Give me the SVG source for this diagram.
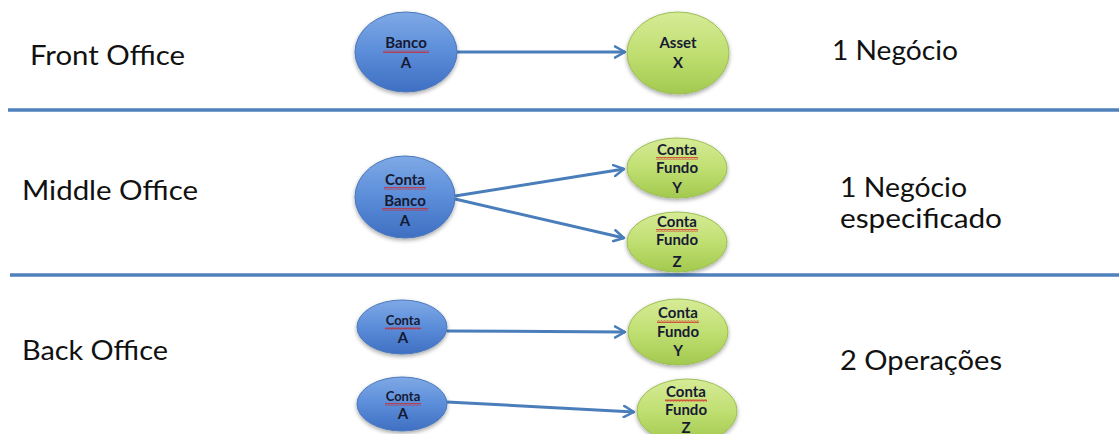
<svg xmlns="http://www.w3.org/2000/svg" width="1119" height="434" viewBox="0 0 1119 434">
  <defs>
    <linearGradient id="gBlue" x1="0" y1="0" x2="0" y2="1">
      <stop offset="0" stop-color="#7fa9e6"/>
      <stop offset="0.5" stop-color="#5b8dd9"/>
      <stop offset="1" stop-color="#3f6fc2"/>
    </linearGradient>
    <linearGradient id="gGreen" x1="0" y1="0" x2="0" y2="1">
      <stop offset="0" stop-color="#d6eb96"/>
      <stop offset="0.5" stop-color="#c0df72"/>
      <stop offset="1" stop-color="#a3c94e"/>
    </linearGradient>
    <filter id="sh" x="-20%" y="-20%" width="140%" height="150%">
      <feGaussianBlur in="SourceAlpha" stdDeviation="2"/>
      <feOffset dx="0" dy="2" result="b"/>
      <feComponentTransfer><feFuncA type="linear" slope="0.35"/></feComponentTransfer>
      <feMerge><feMergeNode/><feMergeNode in="SourceGraphic"/></feMerge>
    </filter>
    <marker id="arr" viewBox="0 0 12 12" refX="10" refY="6" markerWidth="4.5" markerHeight="4.5" orient="auto" markerUnits="strokeWidth">
      <path d="M1,1 L10,6 L1,11" fill="none" stroke="#4a7ebb" stroke-width="2.2" stroke-linecap="round" stroke-linejoin="round"/>
    </marker>
    <pattern id="wavy" width="3" height="3" patternUnits="userSpaceOnUse">
      <path d="M0,2.4 L0.75,0.6 L1.5,2.4 L2.25,0.6 L3,2.4" fill="none" stroke="#d42020" stroke-width="0.7"/>
    </pattern>
  </defs>
  <style>
    .lbl { font-family: Lato, "Open Sans", "Liberation Sans", sans-serif; font-size: 26px; fill: #111; }
    .nt { font-family: Lato, "Liberation Sans", sans-serif; font-weight: bold; font-size: 15px; fill: #161a33; text-anchor: middle; }
    .nts { font-family: Lato, "Liberation Sans", sans-serif; font-weight: bold; font-size: 13px; fill: #161a33; text-anchor: middle; }
    .blue { fill: url(#gBlue); stroke: #4a78bb; stroke-width: 1; filter: url(#sh); }
    .green { fill: url(#gGreen); stroke: #9cbf55; stroke-width: 1; filter: url(#sh); }
    .sep { stroke: #4f81bd; stroke-width: 3.5; }
    .conn { stroke: #4a7ebb; stroke-width: 3; fill: none; marker-end: url(#arr); }
    .wv { fill: url(#wavy); }
  </style>

  <g id="separators">
    <line class="sep" x1="8" y1="110" x2="1119" y2="110"/>
    <line class="sep" x1="10" y1="275" x2="1119" y2="275"/>
  </g>

  <g id="labels">
    <text class="lbl" x="30" y="65" textLength="155" lengthAdjust="spacingAndGlyphs">Front Office</text>
    <text class="lbl" x="22" y="200" textLength="176" lengthAdjust="spacingAndGlyphs">Middle Office</text>
    <text class="lbl" x="22" y="360" textLength="146" lengthAdjust="spacingAndGlyphs">Back Office</text>
    <text class="lbl" x="832" y="60" textLength="126" lengthAdjust="spacingAndGlyphs">1 Negócio</text>
    <text class="lbl" x="840" y="197" textLength="127" lengthAdjust="spacingAndGlyphs">1 Negócio</text>
    <text class="lbl" x="840" y="228" textLength="162" lengthAdjust="spacingAndGlyphs">especificado</text>
    <text class="lbl" x="840" y="370" textLength="162" lengthAdjust="spacingAndGlyphs">2 Operações</text>
  </g>

  <g id="connectors">
    <line class="conn" x1="457" y1="52" x2="625" y2="52"/>
    <line class="conn" x1="455" y1="196" x2="624" y2="169"/>
    <line class="conn" x1="455" y1="199" x2="624" y2="238"/>
    <line class="conn" x1="447" y1="331" x2="625" y2="332"/>
    <line class="conn" x1="447" y1="402" x2="634" y2="412"/>
  </g>

  <g id="front-banco-a">
    <ellipse class="blue" cx="406" cy="52" rx="51" ry="40"/>
    <text class="nt" x="406" y="48">Banco</text>
    <rect class="wv" x="383" y="50" width="46" height="3"/>
    <text class="nt" x="406" y="68">A</text>
  </g>
  <g id="front-asset-x">
    <ellipse class="green" cx="678" cy="53" rx="51" ry="41"/>
    <text class="nt" x="678" y="48">Asset</text>
    <text class="nt" x="678" y="68">X</text>
  </g>

  <g id="middle-conta-banco-a">
    <ellipse class="blue" cx="405" cy="197" rx="50" ry="41"/>
    <text class="nt" x="405" y="185">Conta</text>
    <rect class="wv" x="384" y="187" width="42" height="3"/>
    <text class="nt" x="405" y="206">Banco</text>
    <rect class="wv" x="382" y="208" width="46" height="3"/>
    <text class="nt" x="405" y="226">A</text>
  </g>
  <g id="middle-conta-fundo-y">
    <ellipse class="green" cx="677" cy="168" rx="50" ry="30"/>
    <text class="nt" x="677" y="155">Conta</text>
    <rect class="wv" x="656" y="157" width="42" height="3"/>
    <text class="nt" x="677" y="173">Fundo</text>
    <text class="nt" x="677" y="193">Y</text>
  </g>
  <g id="middle-conta-fundo-z">
    <ellipse class="green" cx="677" cy="242" rx="50" ry="30"/>
    <text class="nt" x="677" y="227">Conta</text>
    <rect class="wv" x="656" y="229" width="42" height="3"/>
    <text class="nt" x="677" y="245">Fundo</text>
    <text class="nt" x="677" y="267">Z</text>
  </g>

  <g id="back-conta-a-1">
    <ellipse class="blue" cx="402" cy="327" rx="45" ry="27"/>
    <text class="nts" x="403" y="325">Conta</text>
    <rect class="wv" x="385" y="327" width="36" height="3"/>
    <text class="nt" x="403" y="343">A</text>
  </g>
  <g id="back-conta-fundo-y">
    <ellipse class="green" cx="678" cy="332" rx="50" ry="33"/>
    <text class="nt" x="678" y="318">Conta</text>
    <rect class="wv" x="657" y="320" width="42" height="3"/>
    <text class="nt" x="678" y="337">Fundo</text>
    <text class="nt" x="678" y="356">Y</text>
  </g>
  <g id="back-conta-a-2">
    <ellipse class="blue" cx="402" cy="404" rx="45" ry="27"/>
    <text class="nts" x="403" y="401">Conta</text>
    <rect class="wv" x="385" y="403" width="36" height="3"/>
    <text class="nt" x="403" y="419">A</text>
  </g>
  <g id="back-conta-fundo-z">
    <ellipse class="green" cx="687" cy="411" rx="50" ry="32"/>
    <text class="nt" x="686" y="397">Conta</text>
    <rect class="wv" x="665" y="399" width="42" height="3"/>
    <text class="nt" x="686" y="415">Fundo</text>
    <text class="nt" x="686" y="433">Z</text>
  </g>
</svg>
